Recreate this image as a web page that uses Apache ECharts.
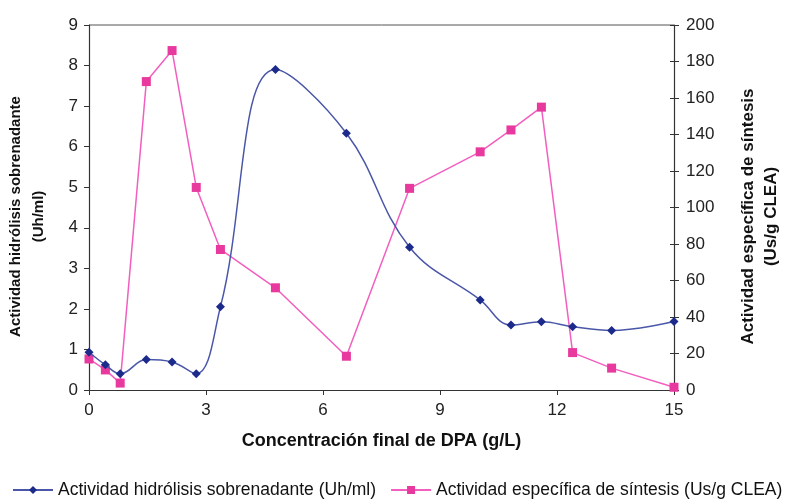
<!DOCTYPE html>
<html>
<head>
<meta charset="utf-8">
<script src="https://cdn.jsdelivr.net/npm/echarts@6/dist/echarts.min.js"></script>
<style>
html,body{margin:0;padding:0;background:#fff;}
#chart{width:788px;height:499px;}
</style>
</head>
<body>
<div id="chart"></div>
<script>
const concentration = [0, 0.42, 0.8, 1.47, 2.13, 2.75, 3.37, 4.78, 6.6, 8.22, 10.03, 10.82, 11.6, 12.4, 13.4, 15];
const hidrolisis = [0.93, 0.62, 0.40, 0.75, 0.69, 0.40, 2.05, 7.90, 6.33, 3.52, 2.22, 1.60, 1.68, 1.56, 1.47, 1.69];
const sintesis = [17, 11, 3.8, 169, 186, 111, 77, 56, 18.5, 110.5, 130.5, 142.5, 155, 20.5, 12, 1.5];
const seriesNames = ['Actividad hidrólisis sobrenadante (Uh/ml)', 'Actividad específica de síntesis (Us/g CLEA)'];

const font = '"Liberation Sans", Arial, sans-serif';
const chart = echarts.init(document.getElementById('chart'));
const axisLine = {show: true, lineStyle: {color: '#333', width: 1.2}};
chart.setOption({
  backgroundColor: '#fff',
  animation: false,
  textStyle: {fontFamily: font},
  grid: {left: 89, right: 114, top: 25, bottom: 109, outerBoundsMode: 'none', containLabel: false},
  legend: {
    left: 12, top: 481, itemGap: 14, itemWidth: 40, itemHeight: 10, padding: 0, width: 776,
    textStyle: {fontFamily: font, fontSize: 17.5, color: '#111'},
    data: seriesNames
  },
  xAxis: {
    type: 'value', min: 0, max: 15, interval: 3,
    name: 'Concentración final de DPA (g/L)', nameLocation: 'middle', nameGap: 42,
    nameTextStyle: {fontFamily: font, fontSize: 18, fontWeight: 'bold', color: '#111'},
    axisLine: axisLine,
    axisTick: {show: true, length: 5, lineStyle: {color: '#333'}},
    axisLabel: {fontFamily: font, fontSize: 17, color: '#222', margin: 12},
    splitLine: {show: false}
  },
  yAxis: [{
    type: 'value', min: 0, max: 9, interval: 1, position: 'left',
    name: 'Actividad hidrólisis sobrenadante\n(Uh/ml)', nameLocation: 'middle', nameRotate: 90, nameGap: 39,
    nameTextStyle: {fontFamily: font, fontSize: 15, fontWeight: 'bold', color: '#111', lineHeight: 23, padding: [0, 18, 0, 0]},
    axisLine: axisLine,
    axisTick: {show: true, length: 5, lineStyle: {color: '#333'}},
    axisLabel: {fontFamily: font, fontSize: 17, color: '#222', margin: 11},
    splitLine: {show: false}
  }, {
    type: 'value', min: 0, max: 200, interval: 20, position: 'right',
    name: 'Actividad específica de síntesis\n(Us/g CLEA)', nameLocation: 'middle', nameRotate: 90, nameGap: 63,
    nameTextStyle: {fontFamily: font, fontSize: 17, fontWeight: 'bold', color: '#111', lineHeight: 23, padding: [0, 18, 0, 0]},
    axisLine: axisLine,
    axisTick: {show: true, length: 5, lineStyle: {color: '#333'}},
    axisLabel: {fontFamily: font, fontSize: 17, color: '#222', margin: 12},
    splitLine: {show: false}
  }, {
    type: 'value', min: 0, max: 200, interval: 20, position: 'right',
    axisLine: {show: false},
    axisTick: {show: true, inside: true, length: 4, lineStyle: {color: '#333'}},
    axisLabel: {show: false},
    splitLine: {show: false}
  }],
  graphic: [{
    type: 'line', shape: {x1: 89, y1: 25, x2: 674, y2: 25},
    style: {stroke: '#555', lineWidth: 1}
  }],
  series: [{
    name: seriesNames[0], type: 'line', yAxisIndex: 0, smooth: 0.4,
    data: concentration.map((x, i) => [x, hidrolisis[i]]),
    symbol: 'diamond', symbolSize: 9,
    lineStyle: {color: '#4a57a8', width: 1.5},
    itemStyle: {color: '#1c2a8c'},
    z: 3
  }, {
    name: seriesNames[1], type: 'line', yAxisIndex: 1, smooth: false,
    data: concentration.map((x, i) => [x, sintesis[i]]),
    symbol: 'rect', symbolSize: 9,
    lineStyle: {color: '#f25fbf', width: 1.5},
    itemStyle: {color: '#e8399f'},
    z: 2
  }]
});
</script>
</body>
</html>
